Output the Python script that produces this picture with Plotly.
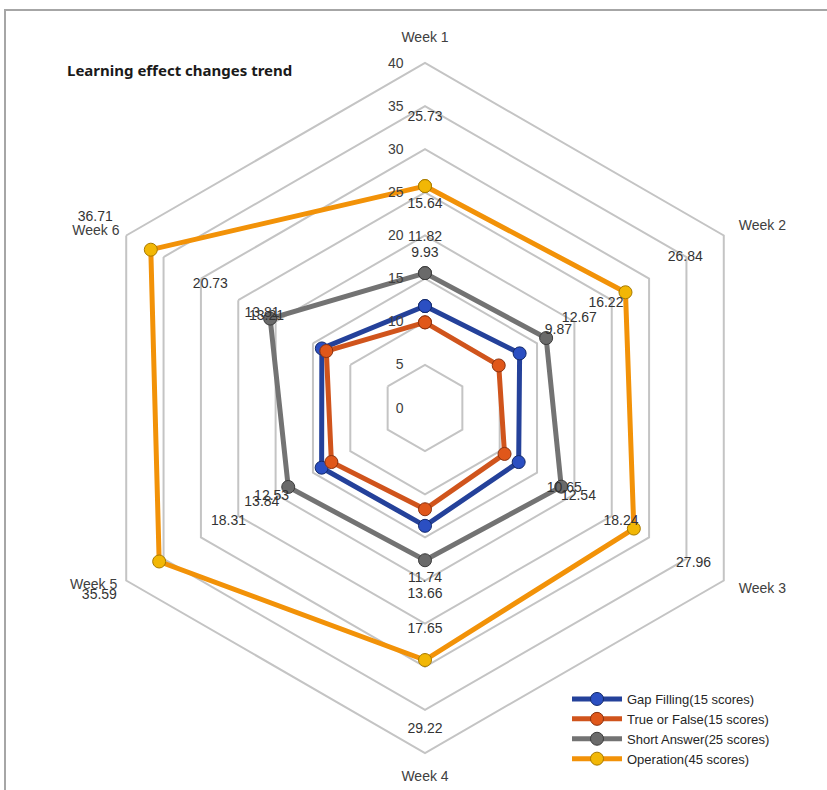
import plotly.graph_objects as go

weeks = ["Week 1", "Week 2", "Week 3", "Week 4", "Week 5", "Week 6"]
gap_filling = [11.82, 12.67, 12.54, 13.66, 13.84, 13.81]
true_false = [9.93, 9.87, 10.65, 11.74, 12.53, 13.21]
short_answer = [15.64, 16.22, 18.24, 17.65, 18.31, 20.73]
operation = [25.73, 26.84, 27.96, 29.22, 35.59, 36.71]
radial_ticks = [0, 5, 10, 15, 20, 25, 30, 35, 40]

series_names = ["Gap Filling(15 scores)", "True or False(15 scores)",
                "Short Answer(25 scores)", "Operation(45 scores)"]
series_values = [gap_filling, true_false, short_answer, operation]
line_colors = ["#24419a", "#d0541c", "#737373", "#f29208"]
marker_colors = ["#2b4fc2", "#e0571a", "#6a6a6a", "#f2b705"]
marker_lines = ["#142a6a", "#8a3210", "#3c3c3c", "#a87a00"]

# styling / placement (not data)
label_offset = 8      # Excel draws the value labels shifted outward along each spoke
label_cap = 44.15
week_label_r = [42, 42, 42, 42, 41.2, 40.9]
week_label_pos = ["top center", "middle right", "middle right",
                  "bottom center", "middle left", "middle left"]
r_max = 44.2

fig = go.Figure()
for name, vals, lc, mc, ml in zip(series_names, series_values, line_colors, marker_colors, marker_lines):
    fig.add_trace(go.Scatterpolar(
        r=vals + [vals[0]], theta=weeks + [weeks[0]],
        mode="lines+markers", name=name,
        line=dict(color=lc, width=5),
        marker=dict(size=13, color=mc, line=dict(color=ml, width=1)),
    ))
for vals in series_values:
    fig.add_trace(go.Scatterpolar(
        r=[min(v + label_offset, label_cap) for v in vals], theta=weeks,
        mode="text", text=[f"{v:.2f}" for v in vals],
        textfont=dict(family="Liberation Sans, Arial", size=14, color="#333333"),
        showlegend=False, hoverinfo="skip", cliponaxis=False,
    ))
# category labels
fig.add_trace(go.Scatterpolar(
    r=week_label_r, theta=weeks, mode="text", text=weeks,
    textposition=week_label_pos,
    textfont=dict(family="Liberation Sans, Arial", size=14, color="#404040"),
    showlegend=False, hoverinfo="skip", cliponaxis=False,
))

R_px = r_max * 345 / 40
cx, cy = 425, 408
fig.update_layout(
    width=827, height=790,
    margin=dict(l=0, r=0, t=0, b=0),
    paper_bgcolor="white",
    font=dict(family="Liberation Sans, Arial", size=14, color="#404040"),
    title=dict(text="<b>Learning effect changes trend</b>", x=67/827, xanchor="left",
               y=1-71/790, yanchor="middle",
               font=dict(family="Noto Sans, Open Sans", size=15, color="#1a1a1a")),
    polar=dict(
        domain=dict(x=[(cx - R_px)/827, (cx + R_px)/827],
                    y=[1-(cy + R_px)/790, 1-(cy - R_px)/790]),
        bgcolor="rgba(0,0,0,0)",
        gridshape="linear",
        radialaxis=dict(range=[0, r_max], tickvals=radial_ticks, angle=90,
                        side="counterclockwise",
                        showline=False, ticks="outside", ticklen=16,
                        tickcolor="rgba(0,0,0,0)",
                        gridcolor="#c4c4c4", gridwidth=1.5,
                        tickfont=dict(size=14, color="#404040"), tickangle=90),
        angularaxis=dict(direction="clockwise", rotation=90, showgrid=False,
                         showline=False, ticks="", showticklabels=False),
    ),
    legend=dict(x=567/827, y=1-684/790, xanchor="left", yanchor="top",
                font=dict(family="Liberation Sans, Arial", size=13, color="#262626"),
                bgcolor="rgba(0,0,0,0)", itemwidth=50, tracegroupgap=0),
    shapes=[dict(type="rect", xref="paper", yref="paper",
                 x0=5/827, x1=1.02, y0=-0.02, y1=1-10/790,
                 line=dict(color="#a6a6a6", width=2))],
)

fig.write_html("out.html")
